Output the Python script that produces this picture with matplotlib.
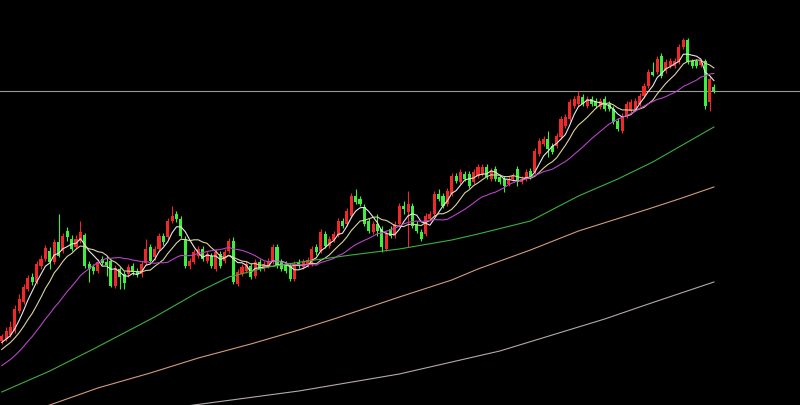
import numpy as np
import pandas as pd
import matplotlib
matplotlib.use("Agg")
import matplotlib.pyplot as plt

# daily candles, oldest first (price units)
opens = [64, 66, 70, 74, 94, 103, 116, 128, 123, 139,
         146, 154, 143, 163, 154, 174, 166, 158, 164, 170,
         141, 138, 134, 146, 143, 144, 119, 136, 131, 131,
         139, 134, 131, 142, 158, 148, 156, 169, 168, 184,
         191, 186, 166, 139, 143, 149, 156, 144, 149, 136,
         151, 144, 154, 164, 121, 131, 134, 139, 129, 143,
         136, 139, 143, 158, 143, 141, 139, 126, 143, 138,
         140, 141, 158, 154, 171, 159, 165, 170, 184, 181,
         189, 209, 206, 198, 184, 173, 181, 176, 156, 176,
         169, 181, 199, 193, 199, 181, 173, 171, 186, 191,
         211, 209, 201, 211, 229, 223, 231, 231, 223, 229,
         231, 238, 226, 236, 228, 226, 221, 226, 236, 223,
         226, 234, 233, 251, 261, 266, 259, 259, 268, 279,
         286, 299, 301, 308, 299, 306, 304, 298, 306, 301,
         296, 284, 274, 289, 294, 296, 301, 309, 319, 333,
         333, 349, 334, 339, 339, 343, 358, 365, 344, 344,
         340, 344, 303, 318]
highs = [71, 78, 84, 100, 111, 121, 130, 132, 144, 150,
         160, 158, 166, 191, 172, 178, 170, 170, 184, 172,
         144, 141, 146, 149, 149, 146, 140, 138, 134, 141,
         142, 137, 144, 166, 161, 159, 172, 172, 187, 199,
         194, 189, 169, 147, 156, 159, 159, 154, 152, 156,
         154, 156, 167, 168, 136, 141, 144, 142, 146, 146,
         144, 147, 161, 161, 146, 144, 142, 144, 146, 146,
         148, 159, 161, 176, 174, 169, 174, 187, 187, 197,
         212, 216, 209, 201, 187, 184, 191, 179, 174, 179,
         184, 202, 204, 214, 202, 184, 176, 192, 194, 214,
         216, 212, 217, 232, 232, 236, 234, 234, 236, 241,
         241, 241, 237, 239, 231, 229, 229, 232, 239, 229,
         236, 237, 257, 267, 269, 274, 262, 272, 289, 291,
         306, 309, 314, 311, 309, 309, 307, 307, 309, 304,
         299, 287, 292, 304, 306, 307, 312, 322, 336, 343,
         349, 352, 346, 347, 347, 361, 367, 367, 346, 346,
         346, 346, 329, 321]
lows = [61, 64, 68, 72, 92, 101, 114, 120, 121, 136,
        144, 136, 141, 148, 152, 164, 154, 156, 162, 137,
        123, 131, 132, 140, 129, 118, 117, 116, 116, 128,
        130, 128, 128, 140, 142, 145, 154, 160, 166, 182,
        183, 167, 137, 136, 141, 147, 144, 142, 137, 134,
        137, 142, 152, 121, 119, 129, 132, 126, 127, 134,
        134, 137, 141, 137, 134, 132, 124, 124, 137, 136,
        138, 139, 150, 152, 157, 157, 163, 168, 177, 179,
        187, 201, 199, 179, 172, 171, 169, 153, 154, 167,
        167, 179, 191, 158, 177, 172, 164, 169, 184, 189,
        204, 197, 199, 209, 222, 221, 224, 217, 221, 227,
        229, 226, 224, 224, 221, 213, 219, 224, 219, 221,
        224, 226, 231, 249, 259, 248, 251, 257, 266, 277,
        284, 297, 299, 299, 297, 299, 297, 296, 294, 294,
        281, 274, 272, 287, 292, 294, 299, 307, 317, 329,
        331, 327, 332, 337, 337, 341, 356, 341, 337, 337,
        338, 296, 294, 312]
closes = [69, 74, 78, 96, 106, 118, 127, 123, 141, 146,
          157, 143, 163, 149, 169, 168, 156, 166, 173, 139,
          136, 134, 143, 142, 140, 119, 137, 128, 122, 138,
          133, 131, 141, 156, 144, 156, 169, 163, 184, 189,
          186, 169, 139, 144, 153, 156, 146, 151, 139, 153,
          139, 153, 164, 123, 133, 138, 141, 128, 143, 136,
          141, 144, 158, 139, 136, 134, 126, 141, 139, 143,
          145, 156, 153, 173, 159, 166, 171, 184, 179, 194,
          209, 203, 201, 181, 174, 181, 174, 158, 171, 169,
          181, 199, 196, 201, 179, 174, 166, 189, 191, 211,
          206, 199, 214, 229, 224, 233, 226, 219, 233, 238,
          238, 228, 234, 226, 223, 219, 226, 229, 223, 226,
          233, 228, 254, 264, 266, 256, 253, 269, 286, 288,
          303, 306, 309, 301, 306, 301, 299, 304, 296, 296,
          283, 276, 289, 301, 303, 304, 309, 319, 333, 330,
          346, 329, 343, 344, 344, 358, 365, 343, 339, 339,
          344, 299, 326, 314]

# closes before the visible window (needed for the short averages)
prior_closes = [14, 16, 18, 20, 22, 24, 26, 28, 31, 34,
                38, 44, 50, 54, 56, 58, 60, 62, 64]

# long moving averages (candle index, value)
ma60_idx = [0, 11, 21, 35, 45, 52, 61, 70, 80, 91, 103, 109, 121, 132, 141, 149, 157, 163]
ma60_val = [13, 34, 56, 88, 113, 128, 138, 144, 150, 156, 165, 171, 184, 209, 226, 243, 263, 278]
ma120_idx = [0, 11, 22, 34, 45, 57, 68, 76, 91, 103, 109, 121, 132, 148, 155, 163]
ma120_val = [-14, 0, 17, 32, 47, 61, 75, 86, 108, 125, 136, 155, 174, 196, 206, 218]
ma250_idx = [0, 44, 68, 91, 114, 138, 148, 163]
ma250_val = [-26, 0, 14, 31, 54, 86, 101, 123]

up_color = "#f02828"
down_color = "#3cf03c"

o = np.array(opens, dtype=float)
h = np.array(highs, dtype=float)
l = np.array(lows, dtype=float)
c = np.array(closes, dtype=float)
x = np.arange(len(c))

all_close = pd.Series(prior_closes + closes, dtype=float)
n_prior = len(prior_closes)
ma5 = all_close.rolling(5, min_periods=1).mean().values[n_prior:]
ma10 = all_close.rolling(10, min_periods=1).mean().values[n_prior:]
ma20 = all_close.rolling(20, min_periods=1).mean().values[n_prior:]

fig = plt.figure(figsize=(8, 4.06), dpi=100, facecolor="black")
ax = fig.add_axes([0, 0, 1, 1])
ax.set_facecolor("black")

colors = np.where(c >= o, up_color, down_color)

# wicks then bodies
ax.vlines(x, l, h, colors=colors, linewidth=0.8, zorder=2)
body_bottom = np.minimum(o, c)
body_height = np.maximum(np.abs(c - o), 1.0)
ax.bar(x, body_height, bottom=body_bottom, width=0.7, color=colors, linewidth=0, zorder=3)

# moving averages
ax.plot(x, ma5, color="#e8e8e8", lw=0.8, zorder=4)
ax.plot(x, ma10, color="#dcd49c", lw=0.8, zorder=4)
ax.plot(x, ma20, color="#b844c8", lw=0.8, zorder=4)
ax.plot(ma60_idx, ma60_val, color="#3fae3f", lw=0.8, zorder=4)
ax.plot(ma120_idx, ma120_val, color="#d49a7c", lw=0.8, zorder=4)
ax.plot(ma250_idx, ma250_val, color="#b4a8ac", lw=0.8, zorder=4)

# last price line
ax.axhline(c[-1], color="#9a9a9a", lw=0.8, zorder=1)

ax.set_xlim(-0.39, 182.7)
ax.set_ylim(0, 406)
ax.axis("off")

fig.savefig("out.png", dpi=100, facecolor="black")
